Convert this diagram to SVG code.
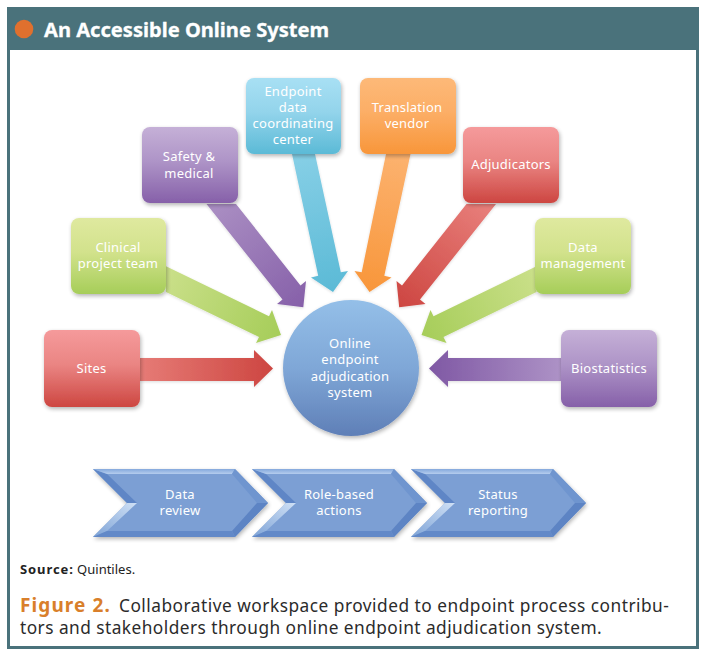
<svg xmlns="http://www.w3.org/2000/svg" xmlns:xlink="http://www.w3.org/1999/xlink" width="703" height="653" viewBox="0 0 703 653">
<style>
text{font-family:"Noto Sans","Open Sans","Liberation Sans",sans-serif}
.n{fill:#fff;font-size:13px;text-anchor:middle;letter-spacing:.25px}
.box{filter:url(#sh)}
.arr{filter:url(#sh2)}
.cap{font-size:17.3px;fill:#2b2b2b;letter-spacing:.46px}
</style>
<defs>
<filter id="sh" x="-15%" y="-15%" width="130%" height="130%"><feGaussianBlur in="SourceAlpha" stdDeviation="2"/><feOffset dx="1" dy="2"/><feComponentTransfer><feFuncA type="linear" slope=".3"/></feComponentTransfer><feMerge><feMergeNode/><feMergeNode in="SourceGraphic"/></feMerge></filter>
<filter id="sh2" x="-15%" y="-15%" width="130%" height="130%"><feGaussianBlur in="SourceAlpha" stdDeviation="1.5"/><feOffset dx="0" dy="1"/><feComponentTransfer><feFuncA type="linear" slope=".14"/></feComponentTransfer><feMerge><feMergeNode/><feMergeNode in="SourceGraphic"/></feMerge></filter>
<linearGradient id="gR" x1="0" y1="0" x2="0" y2="1"><stop offset="0" stop-color="#f59a9b"/><stop offset=".45" stop-color="#ea8583"/><stop offset="1" stop-color="#cd4641"/></linearGradient>
<linearGradient id="gP" x1="0" y1="0" x2="0" y2="1"><stop offset="0" stop-color="#c5b0d7"/><stop offset=".45" stop-color="#ae94c7"/><stop offset="1" stop-color="#8660a9"/></linearGradient>
<linearGradient id="gB" x1="0" y1="0" x2="0" y2="1"><stop offset="0" stop-color="#a8e0f4"/><stop offset=".45" stop-color="#93d4eb"/><stop offset="1" stop-color="#5bbad6"/></linearGradient>
<linearGradient id="gO" x1="0" y1="0" x2="0" y2="1"><stop offset="0" stop-color="#fdb978"/><stop offset=".45" stop-color="#fcae66"/><stop offset="1" stop-color="#f8963a"/></linearGradient>
<linearGradient id="gG" x1="0" y1="0" x2="0" y2="1"><stop offset="0" stop-color="#dfe99f"/><stop offset=".45" stop-color="#d2e28c"/><stop offset="1" stop-color="#a6cd59"/></linearGradient>
<linearGradient id="gC" x1="0" y1="0" x2="0" y2="1"><stop offset="0" stop-color="#94bfe8"/><stop offset=".5" stop-color="#7fa7d7"/><stop offset="1" stop-color="#5f7fb7"/></linearGradient>
<linearGradient id="a1" gradientUnits="userSpaceOnUse" x1="140" y1="0" x2="273" y2="0"><stop offset="0" stop-color="#e67b76"/><stop offset="1" stop-color="#cd4641"/></linearGradient>
<linearGradient id="a2" gradientUnits="userSpaceOnUse" x1="561" y1="0" x2="429" y2="0"><stop offset="0" stop-color="#ad92c6"/><stop offset="1" stop-color="#7f58a4"/></linearGradient>
<linearGradient id="a3" gradientUnits="userSpaceOnUse" x1="166" y1="280" x2="281" y2="335"><stop offset="0" stop-color="#c9df88"/><stop offset="1" stop-color="#a6cd59"/></linearGradient>
<linearGradient id="a4" gradientUnits="userSpaceOnUse" x1="536" y1="280" x2="421" y2="335"><stop offset="0" stop-color="#c9df88"/><stop offset="1" stop-color="#a6cd59"/></linearGradient>
<linearGradient id="a5" gradientUnits="userSpaceOnUse" x1="221" y1="204" x2="303" y2="307"><stop offset="0" stop-color="#a98dc2"/><stop offset="1" stop-color="#8660a9"/></linearGradient>
<linearGradient id="a6" gradientUnits="userSpaceOnUse" x1="481" y1="204" x2="399" y2="307"><stop offset="0" stop-color="#e77d79"/><stop offset="1" stop-color="#cd4641"/></linearGradient>
<linearGradient id="a7" gradientUnits="userSpaceOnUse" x1="303" y1="154" x2="333" y2="292"><stop offset="0" stop-color="#86cfe6"/><stop offset="1" stop-color="#5bbad6"/></linearGradient>
<linearGradient id="a8" gradientUnits="userSpaceOnUse" x1="398" y1="154" x2="369" y2="292"><stop offset="0" stop-color="#fcb26f"/><stop offset="1" stop-color="#f8963a"/></linearGradient>
<linearGradient id="lt" x1="1" y1="0" x2="0" y2="1"><stop offset="0" stop-color="#cfe0f5"/><stop offset="1" stop-color="#7ea3d6"/></linearGradient>
<linearGradient id="tp" x1="0" y1="0" x2="0" y2="1"><stop offset="0" stop-color="#84a8dc"/><stop offset="1" stop-color="#b5cdee"/></linearGradient>
<g id="chev">
<polygon points="0,0 142,0 175,34 142,68 0,68 34,34" fill="#7b9fd4" class="box"/>
<polygon points="0,0 34,34 44,34 14,5" fill="#5f86c6"/>
<polygon points="0,68 34,34 44,34 14,62" fill="url(#lt)"/>
<polygon points="0,0 142,0 139,5 14,5" fill="url(#tp)"/>
<polygon points="0,68 142,68 139,62 14,62" fill="#6289c8"/>
<polygon points="142,0 175,34 164,34 139,5" fill="#6f95cf"/>
<polygon points="142,68 175,34 164,34 139,62" fill="#5d84c4"/>
</g>
</defs>
<rect width="703" height="653" fill="#fff"/>
<g id="frame">
<rect x="8.500" y="8.500" width="689" height="639" fill="#fff" stroke="#4a727b" stroke-width="3"/>
<rect x="7" y="7" width="692" height="43" fill="#4a727b"/>
<circle cx="24" cy="29" r="9.300" fill="#e0702e"/>
<text x="44" y="37" font-size="20.1" font-weight="700" fill="#fff" stroke="#fff" stroke-width=".3">An Accessible Online System</text>
</g>
<g id="connectors">
<polygon class="arr" fill="url(#a1)" points="140,358 254,358 254,350 273,368.5 254,387 254,381 140,381"/>
<polygon class="arr" fill="url(#a2)" points="561,358 448,358 448,350 429,368.5 448,387 448,381 561,381"/>
<polygon class="arr" fill="url(#a3)" points="166,266.3 269,316.2 272,310 281,335 256,343 259,336.9 166,291.9"/>
<polygon class="arr" fill="url(#a4)" points="536.5,266.3 433.5,316.2 430.5,310 421.5,335 446.5,343 443.5,336.9 536.5,291.9"/>
<polygon class="arr" fill="url(#a5)" points="236,204 300.5,285.4 306,281 303.3,307.3 277,304 282.5,299.6 206.5,204"/>
<polygon class="arr" fill="url(#a6)" points="466.5,204 402,285.4 396.5,281 399.2,307.3 425.5,304 420,299.6 496,204"/>
<polygon class="arr" fill="url(#a7)" points="292,154 318.2,275.8 311,277.5 333,292 348,271 340.8,272.2 315,154"/>
<polygon class="arr" fill="url(#a8)" points="410.5,154 384.3,275.8 391.5,277.5 369.5,292 354.5,271 361.7,272.2 386,154"/>
</g>
<g id="node-sites"><rect class="box" x="44" y="330" width="96" height="77" rx="8" fill="url(#gR)"/><text class="n" x="91.500" y="373">Sites</text></g>
<g id="node-clinical"><rect class="box" x="71" y="218" width="95" height="76" rx="8" fill="url(#gG)"/><text class="n" x="118" y="252">Clinical</text><text class="n" x="118" y="268">project team</text></g>
<g id="node-safety"><rect class="box" x="142" y="127" width="96" height="76" rx="8" fill="url(#gP)"/><text class="n" x="189" y="161">Safety &amp;</text><text class="n" x="189" y="178">medical</text></g>
<g id="node-endpoint"><rect class="box" x="246" y="78" width="95" height="76" rx="8" fill="url(#gB)"/><text class="n" x="293" y="96">Endpoint</text><text class="n" x="293" y="112">data</text><text class="n" x="293" y="128">coordinating</text><text class="n" x="293" y="144">center</text></g>
<g id="node-translation"><rect class="box" x="360" y="78" width="96" height="76" rx="8" fill="url(#gO)"/><text class="n" x="407" y="112">Translation</text><text class="n" x="407" y="128">vendor</text></g>
<g id="node-adjudicators"><rect class="box" x="463" y="127" width="96" height="76" rx="8" fill="url(#gR)"/><text class="n" x="511" y="169">Adjudicators</text></g>
<g id="node-data"><rect class="box" x="535" y="218" width="96" height="76" rx="8" fill="url(#gG)"/><text class="n" x="583" y="252">Data</text><text class="n" x="583" y="268">management</text></g>
<g id="node-biostat"><rect class="box" x="561" y="330" width="96" height="77" rx="8" fill="url(#gP)"/><text class="n" x="609" y="373">Biostatistics</text></g>
<g id="node-system"><circle class="box" cx="351" cy="368" r="68" fill="url(#gC)"/><text class="n" x="350" y="348">Online</text><text class="n" x="350" y="364">endpoint</text><text class="n" x="350" y="381">adjudication</text><text class="n" x="350" y="397">system</text></g>
<g id="node-review"><use xlink:href="#chev" href="#chev" x="93" y="469"/><text class="n" x="180" y="499">Data</text><text class="n" x="180" y="515">review</text></g>
<g id="node-actions"><use xlink:href="#chev" href="#chev" x="252" y="469"/><text class="n" x="339" y="499">Role-based</text><text class="n" x="339" y="515">actions</text></g>
<g id="node-status"><use xlink:href="#chev" href="#chev" x="411" y="469"/><text class="n" x="498" y="499">Status</text><text class="n" x="498" y="515">reporting</text></g>
<g id="caption">
<text x="20" y="574" font-size="13" fill="#222"><tspan font-weight="700" letter-spacing=".9">Source:</tspan> Quintiles.</text>
<text class="cap" x="20" y="612"><tspan font-weight="700" fill="#d97f2b" font-size="19" letter-spacing="1.1">Figure 2.</tspan><tspan dx="3" letter-spacing=".5"> Collaborative workspace provided to endpoint process contribu-</tspan></text>
<text class="cap" x="20" y="634">tors and stakeholders through online endpoint adjudication system.</text>
</g>
</svg>
